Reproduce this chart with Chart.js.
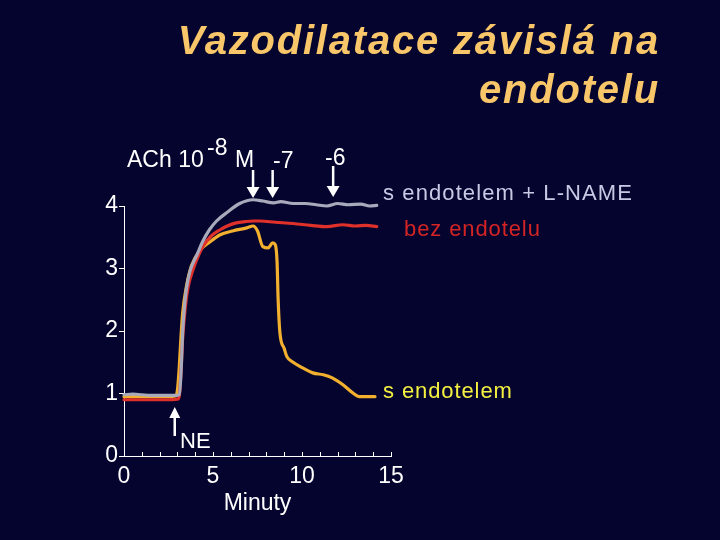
<!DOCTYPE html>
<html>
<head>
<meta charset="utf-8">
<script src="https://cdn.jsdelivr.net/npm/chart.js@4/dist/chart.umd.min.js"></script>
<style>
  html, body { margin: 0; padding: 0; background: #04042e; }
  #wrap { width: 720px; height: 540px; }
</style>
</head>
<body>
<div id="wrap"><canvas id="c" width="720" height="540"></canvas></div>
<script>
// ---- data (time in minutes, tension relative) ----
const lnameTime = [0, 0.5, 1, 1.5, 2, 2.5, 3.0, 3.1, 3.2, 3.3, 3.4, 3.5, 3.7, 3.9, 4.1, 4.4, 4.8, 5.2, 5.8, 6.5, 7.25, 7.8, 8.4, 8.8, 9.5, 10.2, 10.8, 11.4, 12.0, 12.6, 13.3, 13.8, 14.2];
const lnameValue = [0.98, 0.99, 0.98, 0.97, 0.97, 0.97, 0.97, 0.98, 1.3, 2.0, 2.4, 2.66, 2.95, 3.1, 3.22, 3.42, 3.62, 3.76, 3.9, 4.04, 4.1, 4.08, 4.05, 4.07, 4.04, 4.04, 4.02, 4.0, 4.04, 4.02, 4.03, 4.0, 4.01];

const bezTime = [0, 0.5, 1, 1.5, 2, 2.5, 3.0, 3.1, 3.2, 3.3, 3.45, 3.6, 3.9, 4.2, 4.45, 4.9, 5.4, 5.8, 6.3, 6.8, 7.25, 7.64, 8.5, 9.5, 10.5, 11.4, 12.3, 13.0, 13.6, 14.2];
const bezValue = [0.9, 0.9, 0.9, 0.9, 0.9, 0.9, 0.91, 0.95, 1.35, 1.9, 2.4, 2.7, 3.0, 3.22, 3.36, 3.52, 3.62, 3.68, 3.73, 3.75, 3.76, 3.76, 3.74, 3.72, 3.69, 3.67, 3.7, 3.68, 3.69, 3.67];

const sTime = [0, 0.5, 1, 1.5, 2, 2.5, 2.9, 3.0, 3.1, 3.2, 3.3, 3.5, 3.8, 4.3, 4.8, 5.4, 6.1, 6.9, 7.25, 7.5, 7.8, 8.1, 8.35, 8.5, 8.6, 8.66, 8.76, 9.0, 9.15, 9.5, 9.9, 10.6, 11.2, 11.7, 12.3, 12.9, 13.2, 13.6, 14.1];
const sValue = [0.95, 0.95, 0.95, 0.95, 0.95, 0.95, 0.96, 1.05, 1.4, 1.9, 2.3, 2.7, 3.05, 3.3, 3.42, 3.54, 3.6, 3.65, 3.68, 3.6, 3.35, 3.33, 3.41, 3.38, 3.1, 2.5, 1.97, 1.72, 1.59, 1.5, 1.43, 1.33, 1.3, 1.25, 1.14, 1.0, 0.95, 0.95, 0.95];

const xTicks = [0, 5, 10, 15];
const yTicks = [0, 1, 2, 3, 4];
const seriesLabels = ["s endotelem + L-NAME", "bez endotelu", "s endotelem"];
const titleLines = ["Vazodilatace závislá na", "endotelu"];
const xTitle = "Minuty";
const achDoses = [7.25, 8.35, 11.75]; // ACh addition times (min)
const neTime = 2.85;                  // NE addition time (min)

function pts(t, v) { return t.map((x, i) => ({ x: x, y: v[i] })); }

const FONT = "'Liberation Sans', Arial, sans-serif";

const decor = {
  id: 'decor',
  beforeDraw(chart) {
    const ctx = chart.ctx;
    ctx.save();
    ctx.fillStyle = '#04042e';
    ctx.fillRect(0, 0, chart.width, chart.height);
    ctx.restore();
  },
  afterDraw(chart) {
    const ctx = chart.ctx;
    const xs = chart.scales.x, ys = chart.scales.y;
    ctx.save();
    // minor ticks on x axis (every minute, pointing up)
    ctx.strokeStyle = '#ffffff';
    ctx.lineWidth = 1;
    for (let m = 0; m <= 15; m++) {
      const px = Math.round(xs.getPixelForValue(m)) + 0.5;
      ctx.beginPath();
      ctx.moveTo(px, ys.bottom);
      ctx.lineTo(px, ys.bottom - 4);
      ctx.stroke();
    }
    // title
    ctx.fillStyle = '#f9c76a';
    ctx.font = "italic bold 40px " + FONT;
    ctx.textAlign = 'right';
    ctx.textBaseline = 'alphabetic';
    ctx.letterSpacing = '1.8px';
    ctx.fillText(titleLines[0], 660, 54);
    ctx.fillText(titleLines[1], 660, 103);
    ctx.letterSpacing = '0px';

    // ACh annotation
    ctx.fillStyle = '#ffffff';
    ctx.textAlign = 'left';
    ctx.font = "23px " + FONT;
    ctx.fillText("ACh 10", 127, 167);
    ctx.fillText("-8", 207, 155);
    ctx.fillText("M", 235, 167);
    ctx.fillText("-7", 273, 168);
    ctx.fillText("-6", 325, 165);

    // arrows
    function arrowDown(px, y0, y1) {
      ctx.strokeStyle = '#ffffff';
      ctx.lineWidth = 2.5;
      ctx.beginPath();
      ctx.moveTo(px, y0);
      ctx.lineTo(px, y1 - 8);
      ctx.stroke();
      ctx.beginPath();
      ctx.moveTo(px - 6.5, y1 - 11);
      ctx.lineTo(px + 6.5, y1 - 11);
      ctx.lineTo(px, y1);
      ctx.closePath();
      ctx.fill();
    }
    function arrowUp(px, y0, y1) {
      ctx.strokeStyle = '#ffffff';
      ctx.lineWidth = 2.5;
      ctx.beginPath();
      ctx.moveTo(px, y0);
      ctx.lineTo(px, y1 + 8);
      ctx.stroke();
      ctx.beginPath();
      ctx.moveTo(px - 5.5, y1 + 11);
      ctx.lineTo(px + 5.5, y1 + 11);
      ctx.lineTo(px, y1);
      ctx.closePath();
      ctx.fill();
    }
    arrowDown(xs.getPixelForValue(achDoses[0]), 170, 198);
    arrowDown(xs.getPixelForValue(achDoses[1]), 170, 198);
    arrowDown(xs.getPixelForValue(achDoses[2]), 166, 197);
    arrowUp(xs.getPixelForValue(neTime), 436, 407);
    ctx.font = "22px " + FONT;
    ctx.fillText("NE", 180, 448);

    // series labels
    ctx.font = "22px " + FONT;
    ctx.letterSpacing = '1.1px';
    ctx.fillStyle = '#c9c9e6';
    ctx.fillText(seriesLabels[0], 383, 200);
    ctx.letterSpacing = '0.9px';
    ctx.fillStyle = '#d42424';
    ctx.fillText(seriesLabels[1], 404, 236);
    ctx.fillStyle = '#f4f040';
    ctx.fillText(seriesLabels[2], 383, 398);
    ctx.letterSpacing = '0px';
    ctx.restore();
  }
};

const ds = (label, data, color) => ({
  label: label,
  data: data,
  borderColor: color,
  borderWidth: 3.2,
  borderCapStyle: 'round',
  borderJoinStyle: 'round',
  pointRadius: 0,
  fill: false,
  cubicInterpolationMode: 'monotone',
  clip: false
});

new Chart(document.getElementById('c'), {
  type: 'line',
  data: {
    datasets: [
      ds(seriesLabels[0], pts(lnameTime, lnameValue), '#a9a9bc'),
      ds(seriesLabels[1], pts(bezTime, bezValue), '#e0302a'),
      ds(seriesLabels[2], pts(sTime, sValue), '#f2b02e')
    ]
  },
  options: {
    responsive: false,
    animation: false,
    events: [],
    layout: { padding: { left: 84, top: 206, right: 329, bottom: 0 } },
    plugins: { legend: { display: false }, tooltip: { enabled: false }, title: { display: false } },
    scales: {
      x: {
        type: 'linear', min: 0, max: 15,
        afterBuildTicks: s => { s.ticks = xTicks.map(v => ({ value: v })); },
        afterFit: s => { s.height = 84; },
        ticks: { color: '#ffffff', font: { family: FONT, size: 23 }, padding: 7, maxRotation: 0 },
        grid: { display: true, drawOnChartArea: false, drawTicks: false, color: '#ffffff' },
        border: { display: true, color: '#ffffff', width: 1 },
        title: { display: true, text: xTitle, color: '#ffffff', font: { family: FONT, size: 23 }, padding: { top: 0, bottom: 23 } }
      },
      y: {
        type: 'linear', min: 0, max: 4,
        afterBuildTicks: s => { s.ticks = yTicks.map(v => ({ value: v })); },
        afterFit: s => { s.width = 40; },
        ticks: { color: '#ffffff', font: { family: FONT, size: 23 }, padding: 1 },
        grid: { display: true, drawOnChartArea: false, drawTicks: true, tickLength: 5, color: '#ffffff' },
        border: { display: true, color: '#ffffff', width: 1 }
      }
    }
  },
  plugins: [decor]
});
</script>
</body>
</html>
